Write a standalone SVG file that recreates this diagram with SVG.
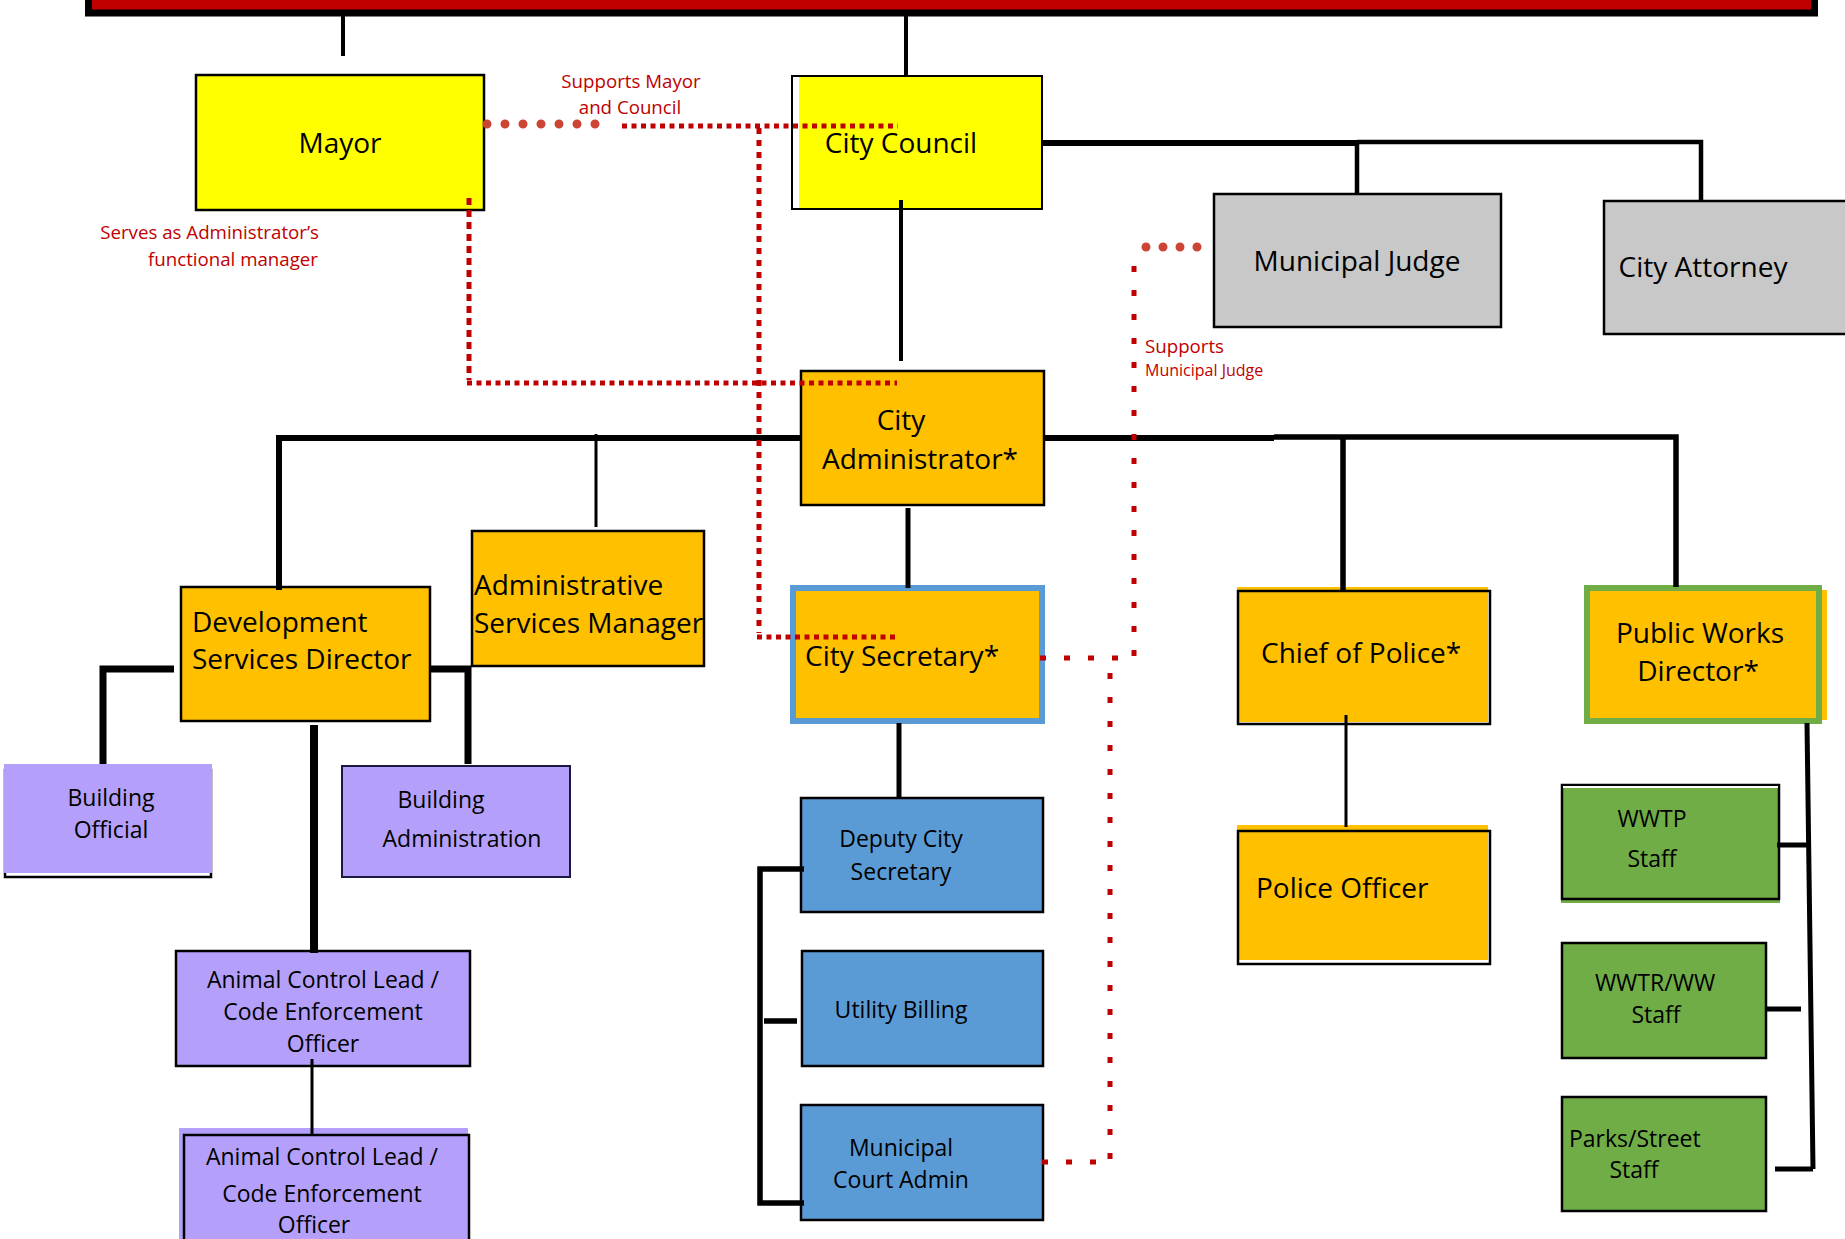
<svg xmlns="http://www.w3.org/2000/svg" width="1845" height="1239" viewBox="0 0 1845 1239">
<style>
text{font-family:"Open Sans","Noto Sans",sans-serif;fill:#000}
.t28{font-size:28px}
.t23{font-size:23px}
.lbl{font-size:18.7px;fill:#C00000}
.lbs{font-size:16px;fill:#C00000}
.mid{text-anchor:middle}
.end{text-anchor:end}
.box{stroke:#000;stroke-width:2.5}
.ln{fill:none;stroke:#000;stroke-linecap:butt}
.dots{fill:none;stroke:#CC4433;stroke-width:9;stroke-linecap:round}
.dash{fill:none;stroke:#C00000;stroke-width:5}
</style>
<rect x="0" y="0" width="1845" height="1239" fill="#fff"/>
<g id="topbar">
<rect x="88.5" y="-10" width="1726" height="23" fill="#C00000" stroke="#000" stroke-width="7"/>
</g>
<g id="labels">
<text class="lbl mid" x="631" y="88">Supports Mayor</text>
<text class="lbl mid" x="630" y="114">and Council</text>
<text class="lbl end" x="319" y="239">Serves as Administrator’s</text>
<text class="lbl end" x="318" y="266">functional manager</text>
<text class="lbl" x="1145" y="353">Supports</text>
<text class="lbs" x="1145" y="376">Municipal Judge</text>
</g>
<g id="mayor">
<rect class="box" x="196" y="75" width="288" height="135" fill="#FFFF00"/>
<text class="t28 mid" x="340" y="153">Mayor</text>
</g>
<g id="city-council">
<rect x="792" y="76" width="250" height="133" fill="#fff" stroke="#000" stroke-width="2"/>
<rect x="799" y="77" width="242" height="131" fill="#FFFF00"/>
<text class="t28 mid" x="901" y="153">City Council</text>
</g>
<g id="municipal-judge">
<rect class="box" x="1214" y="194" width="287" height="133" fill="#C8C8C8"/>
<text class="t28 mid" x="1357" y="271">Municipal Judge</text>
</g>
<g id="city-attorney">
<rect class="box" x="1604" y="201" width="250" height="133" fill="#C8C8C8"/>
<text class="t28 mid" x="1703" y="277">City Attorney</text>
</g>
<g id="city-administrator">
<rect class="box" x="801" y="371" width="243" height="134" fill="#FFC000"/>
<text class="t28 mid" x="901" y="430">City</text>
<text class="t28 mid" x="920" y="469">Administrator*</text>
</g>
<g id="development-services-director">
<rect class="box" x="181" y="587" width="249" height="134" fill="#FFC000"/>
<text class="t28" x="192" y="632">Development</text>
<text class="t28" x="192" y="669">Services Director</text>
</g>
<g id="administrative-services-manager">
<rect class="box" x="472" y="531" width="232" height="135" fill="#FFC000"/>
<text class="t28" x="474" y="595">Administrative</text>
<text class="t28" x="474" y="633">Services Manager</text>
</g>
<g id="city-secretary">
<rect x="793" y="588" width="249" height="133" fill="#FFC000" stroke="#5B9BD5" stroke-width="6"/>
<text class="t28" x="805" y="666">City Secretary*</text>
</g>
<g id="chief-of-police">
<rect x="1237" y="587" width="251" height="135" fill="#FFC000"/>
<rect x="1238" y="591" width="252" height="133" fill="none" stroke="#000" stroke-width="2.5"/>
<text class="t28" x="1261" y="663">Chief of Police*</text>
</g>
<g id="public-works-director">
<rect x="1590" y="590" width="237" height="130" fill="#FFC000"/>
<rect x="1587" y="588" width="232" height="133" fill="none" stroke="#70AD47" stroke-width="6"/>
<text class="t28 mid" x="1700" y="643">Public Works</text>
<text class="t28 mid" x="1698" y="681">Director*</text>
</g>
<g id="police-officer">
<rect x="1237" y="825" width="251" height="135" fill="#FFC000"/>
<rect x="1238" y="831" width="252" height="133" fill="none" stroke="#000" stroke-width="2.5"/>
<text class="t28" x="1256" y="898">Police Officer</text>
</g>
<g id="building-official">
<rect x="5" y="770" width="206" height="107" fill="#fff" stroke="#000" stroke-width="2.5"/>
<rect x="4" y="764" width="208" height="109" fill="#B4A0FA"/>
<text class="t23 mid" x="111" y="806">Building</text>
<text class="t23 mid" x="111" y="838">Official</text>
</g>
<g id="building-administration">
<rect x="342" y="766" width="228" height="111" fill="#B4A0FA" stroke="#1a1a40" stroke-width="2"/>
<text class="t23 mid" x="441" y="808">Building</text>
<text class="t23 mid" x="462" y="847">Administration</text>
</g>
<g id="animal-control-1">
<rect class="box" x="176" y="951" width="294" height="115" fill="#B4A0FA"/>
<text class="t23 mid" x="323" y="988">Animal Control Lead /</text>
<text class="t23 mid" x="323" y="1020">Code Enforcement</text>
<text class="t23 mid" x="323" y="1052">Officer</text>
</g>
<g id="animal-control-2">
<rect x="179" y="1128" width="289" height="120" fill="#B4A0FA"/>
<rect x="184" y="1135" width="285" height="115" fill="none" stroke="#000" stroke-width="2.5"/>
<text class="t23 mid" x="322" y="1165">Animal Control Lead /</text>
<text class="t23 mid" x="322" y="1202">Code Enforcement</text>
<text class="t23 mid" x="314" y="1233">Officer</text>
</g>
<g id="deputy-city-secretary">
<rect class="box" x="801" y="798" width="242" height="114" fill="#5B9BD5"/>
<text class="t23 mid" x="901" y="847">Deputy City</text>
<text class="t23 mid" x="901" y="880">Secretary</text>
</g>
<g id="utility-billing">
<rect class="box" x="802" y="951" width="241" height="115" fill="#5B9BD5"/>
<text class="t23 mid" x="901" y="1018">Utility Billing</text>
</g>
<g id="municipal-court-admin">
<rect class="box" x="801" y="1105" width="242" height="115" fill="#5B9BD5"/>
<text class="t23 mid" x="901" y="1156">Municipal</text>
<text class="t23 mid" x="901" y="1188">Court Admin</text>
</g>
<g id="wwtp-staff">
<rect x="1561" y="785" width="219" height="118" fill="#70AD47"/>
<rect x="1562" y="785" width="217" height="114" fill="none" stroke="#000" stroke-width="2.5"/>
<rect x="1563" y="786" width="215" height="2" fill="#fff"/>
<text class="t23 mid" x="1652" y="827">WWTP</text>
<text class="t23 mid" x="1652" y="867">Staff</text>
</g>
<g id="wwtr-ww-staff">
<rect class="box" x="1562" y="943" width="204" height="115" fill="#70AD47"/>
<text class="t23 mid" x="1655" y="991">WWTR/WW</text>
<text class="t23 mid" x="1656" y="1023">Staff</text>
</g>
<g id="parks-street-staff">
<rect class="box" x="1562" y="1097" width="204" height="114" fill="#70AD47"/>
<text class="t23" x="1569" y="1147">Parks/Street</text>
<text class="t23 mid" x="1634" y="1178">Staff</text>
</g>
<g id="connectors">
<path class="ln" stroke-width="4" d="M343 15V56M906 15V75"/>
<path class="ln" stroke-width="6" d="M1043 143H1357"/>
<path class="ln" stroke-width="4.5" d="M1357 143V193M1357 142H1701V200"/>
<path class="ln" stroke-width="4" d="M901 200V361"/>
<path class="ln" stroke-width="6" d="M800 438H279V590"/>
<path class="ln" stroke-width="3" d="M596 434V527"/>
<path class="ln" stroke-width="6" d="M1044 438H1274"/>
<path class="ln" stroke-width="5.5" d="M1274 437H1676V587M1343 438V590"/>
<path class="ln" stroke-width="5" d="M908 508V588"/>
<path class="ln" stroke-width="7" d="M174 669H103V764M431 669H468V764"/>
<path class="ln" stroke-width="8" d="M314 725V953"/>
<path class="ln" stroke-width="3" d="M312 1059V1135"/>
<path class="ln" stroke-width="5" d="M899 723V798"/>
<path class="ln" stroke-width="5.5" d="M804 869H760V1203H804M764 1021H797"/>
<path class="ln" stroke-width="3" d="M1346 715V827"/>
<path class="ln" stroke-width="5" d="M1807 723L1813 1169M1777 845H1809M1766 1009H1801M1775 1169H1813"/>
<path class="dots" stroke-dasharray="0 18" d="M487 124H600"/>
<path class="dots" stroke-dasharray="0 17" d="M1146 247H1198"/>
<path class="dash" stroke-width="4.5" stroke-dasharray="5 4.5" d="M622 126H898"/>
<path class="dash" stroke-width="4" stroke-dasharray="6 6" d="M759 128V633"/>
<path class="dash" stroke-width="4.5" stroke-dasharray="5 4.5" d="M757 637H898"/>
<path class="dash" stroke-width="4" stroke-dasharray="7 5" d="M469 198V380"/>
<path class="dash" stroke-width="4.5" stroke-dasharray="5 4.5" d="M467 383H897"/>
<path class="dash" stroke-width="5.5" stroke-dasharray="6 18" d="M1134 266V660"/>
<path class="dash" stroke-width="5.5" stroke-dasharray="6 18" d="M1040 658H1120"/>
<path class="dash" stroke-width="5.5" stroke-dasharray="6 18" d="M1110 673V1162"/>
<path class="dash" stroke-width="5.5" stroke-dasharray="6 18" d="M1042 1162H1100"/>
</g>
</svg>
